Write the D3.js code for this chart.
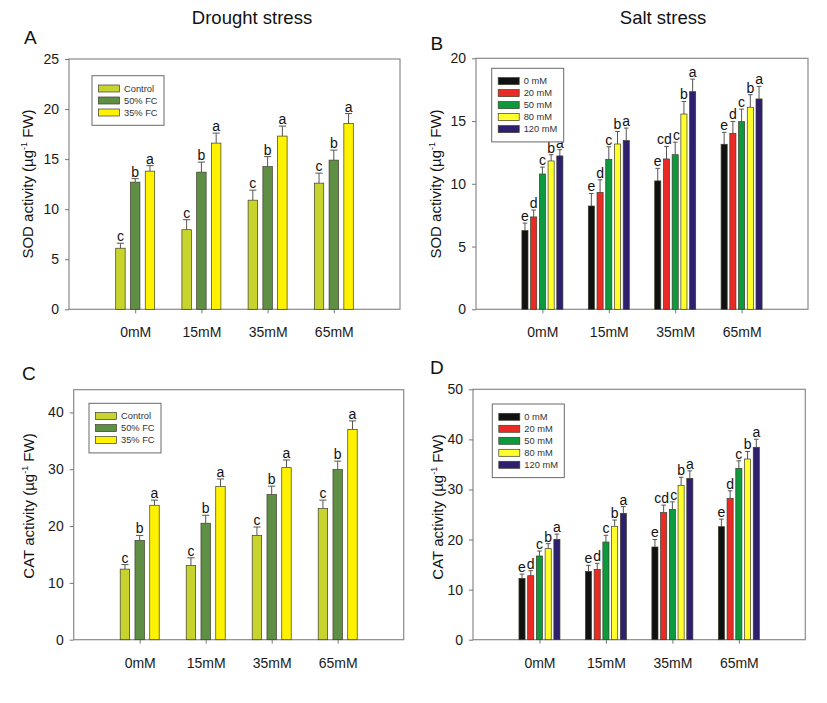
<!DOCTYPE html>
<html><head><meta charset="utf-8">
<script src="https://cdn.jsdelivr.net/npm/d3@7"></script>
<style>body{margin:0;background:#fff}svg{display:block}text{font-family:"Liberation Sans",Arial,sans-serif}</style>
</head><body><svg id="c" width="827" height="703"></svg>
<script>
// ---- data ----
const groups = ["0mM", "15mM", "35mM", "65mM"];
const droughtSeries = ["Control", "50% FC", "35% FC"];
const saltSeries = ["0 mM", "20 mM", "50 mM", "80 mM", "120 mM"];
const droughtColors = ["#c8d42e", "#5f8f45", "#fff200"];
const saltColors = ["#111111", "#ea2b25", "#0d9a3e", "#ffff2e", "#2e1f6f"];

// SOD, drought (per series, across groups)
const sodDrought = [[6.1, 7.95, 10.9, 12.6], [12.7, 13.7, 14.25, 14.9], [13.8, 16.6, 17.3, 18.55]];
const sodDroughtErr = [[0.5, 1.0, 1.0, 1.0], [0.35, 1.0, 1.0, 1.0], [0.55, 1.0, 1.0, 1.0]];
// SOD, salt
const sodSalt = [[6.27, 8.23, 10.23, 13.15], [7.36, 9.32, 11.98, 14.02], [10.78, 11.95, 12.32, 14.95], [11.82, 13.17, 15.56, 16.1], [12.22, 13.44, 17.34, 16.76]];
const sodSaltErr = [[0.6, 1.0, 1.0, 0.95], [0.55, 1.0, 1.0, 0.95], [0.55, 1.0, 1.0, 1.0], [0.5, 1.0, 1.0, 1.0], [0.5, 1.0, 1.0, 1.0]];
// CAT, drought
const catDrought = [[12.42, 13.06, 18.33, 23.07], [17.45, 20.5, 25.53, 29.93], [23.66, 26.94, 30.28, 37.01]];
const catDroughtErr = [[0.8, 1.35, 1.5, 1.5], [0.9, 1.4, 1.5, 1.5], [0.9, 1.35, 1.35, 1.5]];
// CAT, salt
const catSalt = [[12.25, 13.65, 18.51, 22.57], [12.78, 14.05, 25.37, 28.23], [16.71, 19.5, 26.03, 34.22], [18.18, 22.64, 30.83, 36.08], [20.04, 25.23, 32.22, 38.42]];
const catSaltErr = [[0.85, 1.2, 1.5, 1.5], [1.0, 1.2, 1.5, 1.5], [1.0, 1.35, 1.5, 1.5], [1.0, 1.25, 1.6, 1.5], [1.05, 1.35, 1.5, 1.6]];

const droughtLetters = [["c", "c", "c", "c"], ["b", "b", "b", "b"], ["a", "a", "a", "a"]];
const saltLetters = [["e", "e", "e", "e"], ["d", "d", "cd", "d"], ["c", "c", "c", "c"], ["b", "b", "b", "b"], ["a", "a", "a", "a"]];

const sodTicks = [0, 5, 10, 15, 20, 25];
const sodSaltTicks = [0, 5, 10, 15, 20];
const catTicks = [0, 10, 20, 30, 40];
const catSaltTicks = [0, 10, 20, 30, 40, 50];

// ---- drawing ----
const svg = d3.select("#c");

function panel(cfg) {
  const g = svg.append("g");
  const x = d3.scalePoint().domain(groups).range([cfg.x0, cfg.x1]).padding(1);
  const y = d3.scaleLinear().domain(cfg.domain).range([cfg.y1, cfg.y0]);
  const inner = d3.scaleBand().domain(cfg.series).range([-cfg.groupW / 2, cfg.groupW / 2]).paddingInner(cfg.padIn);
  const bw = inner.bandwidth();

  // frame
  g.append("rect").attr("x", cfg.x0).attr("y", cfg.y0).attr("width", cfg.x1 - cfg.x0).attr("height", cfg.y1 - cfg.y0)
    .attr("fill", "none").attr("stroke", "#8a8a8a").attr("stroke-width", 1.2);

  // y axis
  const ya = g.append("g").attr("transform", `translate(${cfg.x0},0)`)
    .call(d3.axisLeft(y).tickValues(cfg.ticks).tickSize(4).tickPadding(6).tickFormat(d3.format("d")));
  ya.select(".domain").remove();
  ya.selectAll(".tick line").attr("stroke", "#777");
  ya.selectAll(".tick text").attr("font-size", 14).attr("fill", "#1a1a1a").style("font-family", "Liberation Sans, Arial, sans-serif");

  // x axis
  const xa = g.append("g").attr("transform", `translate(0,${cfg.y1})`)
    .call(d3.axisBottom(x).tickSize(4).tickPadding(14));
  xa.select(".domain").remove();
  xa.selectAll(".tick line").attr("stroke", "#777");
  xa.selectAll(".tick text").attr("font-size", 14).attr("fill", "#1a1a1a").style("font-family", "Liberation Sans, Arial, sans-serif");

  // bars
  cfg.series.forEach((s, si) => {
    groups.forEach((grp, gi) => {
      const v = cfg.values[si][gi], e = cfg.err[si][gi];
      const bx = x(grp) + inner(s);
      const cx = bx + bw / 2;
      // error bar (upper)
      g.append("line").attr("x1", cx).attr("x2", cx).attr("y1", y(v)).attr("y2", y(v + e)).attr("stroke", "#555").attr("stroke-width", 1);
      g.append("line").attr("x1", cx - bw * 0.38).attr("x2", cx + bw * 0.38).attr("y1", y(v + e)).attr("y2", y(v + e)).attr("stroke", "#555").attr("stroke-width", 1);
      g.append("rect").attr("x", bx).attr("y", y(v)).attr("width", bw).attr("height", y(0) - y(v))
        .attr("fill", cfg.colors[si]).attr("stroke", "#3d3d2a").attr("stroke-width", 0.7);
      const lab = cfg.letters[si][gi];
      const prev = si > 0 ? cfg.letters[si - 1][gi] : "";
      const dx = lab.length > 1 ? -2 : (prev.length > 1 ? 1.3 : 0);
      g.append("text").attr("x", cx + dx).attr("y", y(v + e) - 2).attr("text-anchor", "middle")
        .attr("font-size", 14).attr("fill", "#111").text(lab);
    });
  });

  // legend
  const L = cfg.legend;
  const n = cfg.series.length;
  const lh = 25.6 + 12 * (n - 1);
  g.append("rect").attr("x", L.x).attr("y", L.y).attr("width", 72).attr("height", lh).attr("fill", "#fff").attr("stroke", "#6a6a6a").attr("stroke-width", 1);
  cfg.series.forEach((s, i) => {
    const cy = L.y + 12.8 + 12 * i;
    g.append("rect").attr("x", L.x + 6.5).attr("y", cy - 3.5).attr("width", 21).attr("height", 7)
      .attr("fill", cfg.colors[i]).attr("stroke", "#3d3d2a").attr("stroke-width", 0.7);
    g.append("text").attr("x", L.x + 32).attr("y", cy + 3.3).attr("font-size", 9.3).attr("fill", "#333").text(s);
  });

  // y label
  const yl = g.append("text").attr("transform", `translate(${cfg.ylx},${cfg.yly}) rotate(-90)`)
    .attr("text-anchor", "middle").attr("font-size", 15).attr("fill", "#111");
  yl.append("tspan").text(cfg.ylabel + " (µg");
  yl.append("tspan").attr("font-size", 9).attr("dy", -6).text("-1");
  yl.append("tspan").attr("dy", 6).text(" FW)");

  // panel letter
  g.append("text").attr("x", cfg.letterX).attr("y", cfg.letterY).attr("font-size", 19).attr("fill", "#111").text(cfg.letter);
}

// titles
svg.append("text").attr("x", 252).attr("y", 23.5).attr("text-anchor", "middle").attr("font-size", 18.5).attr("fill", "#111").text("Drought stress");
svg.append("text").attr("x", 663).attr("y", 23.5).attr("text-anchor", "middle").attr("font-size", 18.5).attr("fill", "#111").text("Salt stress");

panel({x0: 69, x1: 400, y0: 59, y1: 309.3, domain: [0, 25], ticks: sodTicks, series: droughtSeries, colors: droughtColors,
  values: sodDrought, err: sodDroughtErr, letters: droughtLetters, groupW: 39, padIn: 0.36,
  legend: {x: 92, y: 75.7}, ylabel: "SOD activity", ylx: 33, yly: 184, letter: "A", letterX: 24, letterY: 43.5});
panel({x0: 476, x1: 808, y0: 58.3, y1: 309.3, domain: [0, 20], ticks: sodSaltTicks, series: saltSeries, colors: saltColors,
  values: sodSalt, err: sodSaltErr, letters: saltLetters, groupW: 41, padIn: 0.3,
  legend: {x: 491.7, y: 68.3}, ylabel: "SOD activity", ylx: 441, yly: 184, letter: "B", letterX: 430.5, letterY: 49.5});
panel({x0: 73.7, x1: 403.7, y0: 389.7, y1: 639.7, domain: [0, 44], ticks: catTicks, series: droughtSeries, colors: droughtColors,
  values: catDrought, err: catDroughtErr, letters: droughtLetters, groupW: 39, padIn: 0.36,
  legend: {x: 89, y: 403.3}, ylabel: "CAT activity", ylx: 34, yly: 506, letter: "C", letterX: 22, letterY: 379.5});
panel({x0: 473, x1: 805.3, y0: 389.3, y1: 639.7, domain: [0, 50], ticks: catSaltTicks, series: saltSeries, colors: saltColors,
  values: catSalt, err: catSaltErr, letters: saltLetters, groupW: 41, padIn: 0.3,
  legend: {x: 492.3, y: 404}, ylabel: "CAT activity", ylx: 443, yly: 507, letter: "D", letterX: 430, letterY: 374});
</script></body></html>
